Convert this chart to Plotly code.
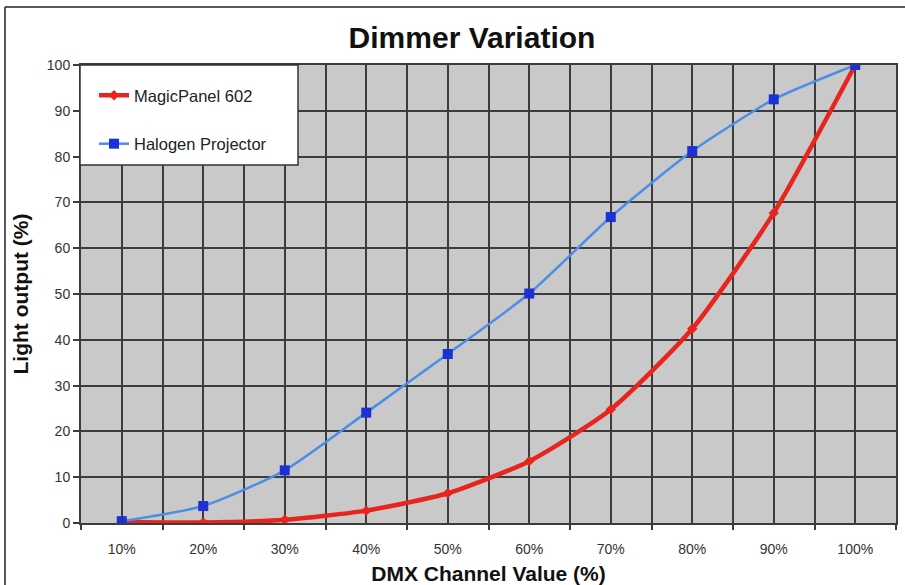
import plotly.graph_objects as go

categories = ["10%", "20%", "30%", "40%", "50%", "60%", "70%", "80%", "90%", "100%"]
magicpanel = [0.2, 0.1, 0.7, 2.7, 6.5, 13.5, 24.8, 42.4, 67.7, 100]
halogen = [0.4, 3.7, 11.5, 24.1, 36.9, 50.1, 66.8, 81.2, 92.5, 100]
y_ticks = [0, 10, 20, 30, 40, 50, 60, 70, 80, 90, 100]

xpos = list(range(len(categories)))
FONT = "Liberation Sans, Arial, sans-serif"
GRID = "#3c3c3c"

fig = go.Figure()
fig.add_trace(go.Scatter(
    x=xpos, y=magicpanel, name="MagicPanel 602", mode="lines+markers",
    line=dict(color="#e8241e", width=4.5, shape="spline", smoothing=0.6),
    marker=dict(symbol="diamond", size=8, color="#e8241e"),
    legendgroup="a",
))
fig.add_trace(go.Scatter(
    x=xpos, y=halogen, name="Halogen Projector", mode="lines+markers",
    line=dict(color="#4a8ee6", width=2.5, shape="spline", smoothing=0.6),
    marker=dict(symbol="square", size=10, color="#1c30d8"),
    legendgroup="b",
))

L, R, T, B = 81, 9, 65, 62
W, H = 905, 585
pw = W - L - R
ph = H - T - B

fig.update_layout(
    width=W, height=H,
    margin=dict(l=L, r=R, t=T, b=B, autoexpand=False),
    paper_bgcolor="white",
    plot_bgcolor="#c9c9c9",
    font=dict(family=FONT, color="#333333", size=14),
    title=dict(text="<b>Dimmer Variation</b>", x=472 / W, xref="container", xanchor="center",
               y=1 - 37 / H, yref="container", yanchor="middle",
               font=dict(size=30, color="#111111", family=FONT), automargin=False),
    showlegend=True,
    legend=dict(x=(94 - L) / pw, y=1 - (78 - T) / ph, xanchor="left", yanchor="top",
                bgcolor="rgba(0,0,0,0)", borderwidth=0,
                font=dict(size=16.5, color="#222222", family=FONT),
                traceorder="grouped", tracegroupgap=24, itemwidth=30),
    xaxis=dict(
        range=[-0.5, 9.5], tickvals=xpos, ticktext=categories,
        showgrid=True, gridcolor=GRID, gridwidth=2,
        ticks="", tickfont=dict(size=14, color="#333333"), ticklabelstandoff=12,
        showline=True, linecolor=GRID, linewidth=2, mirror=True,
        zeroline=False, automargin=False,
        minor=dict(tick0=-0.5, dtick=1, showgrid=True, gridcolor=GRID, gridwidth=2,
                   ticks="outside", ticklen=5, tickcolor=GRID, tickwidth=2),
        title=dict(text="<b>DMX Channel Value (%)</b>", font=dict(size=21, color="#111111", family=FONT),
                   standoff=14),
        fixedrange=True,
    ),
    yaxis=dict(
        range=[0, 100], tickvals=y_ticks,
        showgrid=True, gridcolor=GRID, gridwidth=2,
        ticks="outside", ticklen=6, tickcolor=GRID, tickwidth=2,
        tickfont=dict(size=14, color="#333333"),
        showline=True, linecolor=GRID, linewidth=2, mirror=True,
        zeroline=False, automargin=False,
        title=dict(text="<b>Light output (%)</b>", font=dict(size=21, color="#111111", family=FONT),
                   standoff=12),
        fixedrange=True,
    ),
    shapes=[
        # legend box
        dict(type="rect", xref="paper", yref="paper",
             x0=(80 - L) / pw, x1=(298 - L) / pw,
             y0=1 - (165 - T) / ph, y1=1 - (65 - T) / ph,
             fillcolor="white", line=dict(color="#333333", width=1.5), layer="above"),
        # outer frame lines
        dict(type="line", xref="paper", yref="paper",
             x0=(5 - L) / pw, x1=(W - L) / pw, y0=1 + (T - 7) / ph, y1=1 + (T - 7) / ph,
             line=dict(color="#222222", width=1.5)),
        dict(type="line", xref="paper", yref="paper",
             x0=(5 - L) / pw, x1=(5 - L) / pw, y0=1 + (T - 7) / ph, y1=-(B) / ph,
             line=dict(color="#222222", width=1.5)),
    ],
)

fig.write_html("out.html", config={"displayModeBar": False},
               post_script="document.body.style.margin='0';document.body.style.overflow='hidden';")
